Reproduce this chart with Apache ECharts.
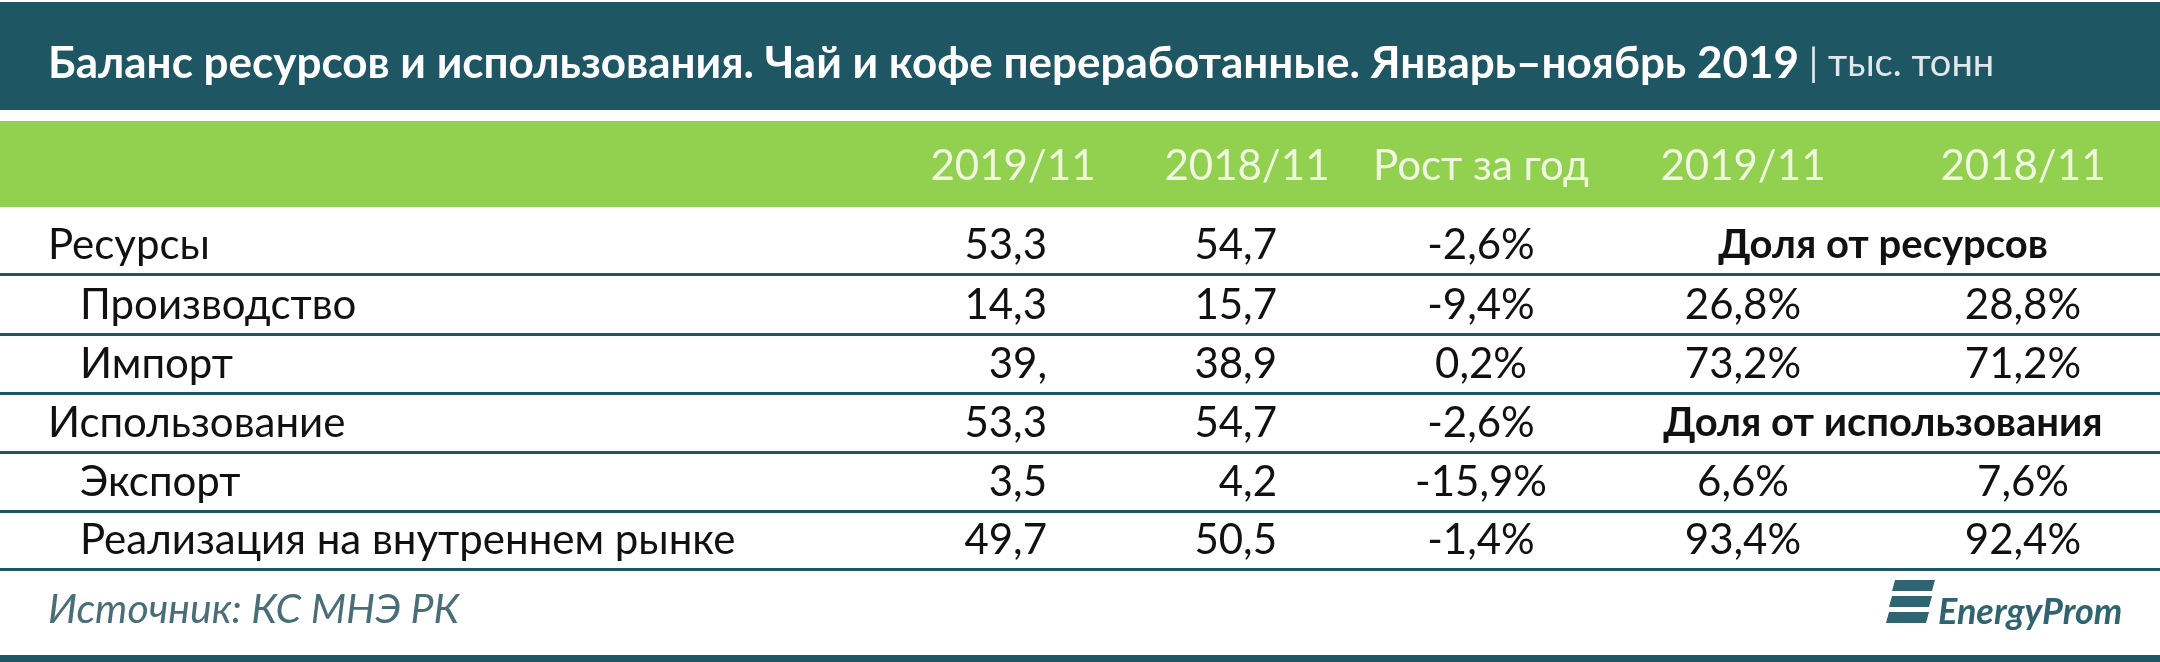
<!DOCTYPE html>
<html><head><meta charset="utf-8">
<script src="https://cdn.jsdelivr.net/npm/echarts@6/dist/echarts.min.js"></script>
<style>html,body{margin:0;padding:0;background:#fff}#c{width:2160px;height:662px}</style>
</head><body><div id="c"></div>
<script>
const title = 'Баланс ресурсов и использования. Чай и кофе переработанные. Январь–ноябрь 2019';
const unit = '| тыс. тонн';
const headers = ['2019/11', '2018/11', 'Рост за год', '2019/11', '2018/11'];
const rowLabels = ['Ресурсы', 'Производство', 'Импорт', 'Использование', 'Экспорт', 'Реализация на внутреннем рынке'];
const rowIndent = [0, 1, 1, 0, 1, 1];
const col2019 = ['53,3', '14,3', '39,', '53,3', '3,5', '49,7'];
const col2018 = ['54,7', '15,7', '38,9', '54,7', '4,2', '50,5'];
const colGrowth = ['-2,6%', '-9,4%', '0,2%', '-2,6%', '-15,9%', '-1,4%'];
const share2019 = ['', '26,8%', '73,2%', '', '6,6%', '93,4%'];
const share2018 = ['', '28,8%', '71,2%', '', '7,6%', '92,4%'];
const shareHeads = ['Доля от ресурсов', '', '', 'Доля от использования', '', ''];
const source = 'Источник: КС МНЭ РК';

const F = 'Lato, "Open Sans", sans-serif';
const FS = 42;
const dark = '#1f5663', green = '#92d050';
const els = [];
els.push({type:'rect', shape:{x:0,y:2,width:2160,height:108}, style:{fill:dark}});
els.push({type:'text', x:48, y:64, style:{text:'{t|'+title+'}{u| '+unit+'}', rich:{t:{font:'bold 44px '+F, fill:'#fff'}, u:{font:'38px '+F, fill:'#dfe9ec'}}, textVerticalAlign:'middle'}});
els.push({type:'rect', shape:{x:0,y:121,width:2160,height:86}, style:{fill:green}});
const hx = [1013, 1247, 1481, 1743, 2023];
headers.forEach((h,i)=>els.push({type:'text', x:hx[i], y:166, style:{text:h, font:FS+'px '+F, fill:'#f0f8e0', textAlign:'center', textVerticalAlign:'middle'}}));
const rowY = [245, 305, 364, 423, 482, 540];
rowLabels.forEach((l,i)=>{
  const y = rowY[i];
  els.push({type:'text', x:rowIndent[i]?80:48, y, style:{text:l, font:FS+'px '+F, fill:'#111', textVerticalAlign:'middle'}});
  els.push({type:'text', x:1047, y, style:{text:col2019[i], font:FS+'px '+F, fill:'#111', textAlign:'right', textVerticalAlign:'middle'}});
  els.push({type:'text', x:1277, y, style:{text:col2018[i], font:FS+'px '+F, fill:'#111', textAlign:'right', textVerticalAlign:'middle'}});
  els.push({type:'text', x:1481, y, style:{text:colGrowth[i], font:FS+'px '+F, fill:'#111', textAlign:'center', textVerticalAlign:'middle'}});
  if (shareHeads[i]) {
    els.push({type:'text', x:1883, y, style:{text:shareHeads[i], font:'bold 40px '+F, fill:'#111', textAlign:'center', textVerticalAlign:'middle'}});
  } else {
    els.push({type:'text', x:1743, y, style:{text:share2019[i], font:FS+'px '+F, fill:'#111', textAlign:'center', textVerticalAlign:'middle'}});
    els.push({type:'text', x:2023, y, style:{text:share2018[i], font:FS+'px '+F, fill:'#111', textAlign:'center', textVerticalAlign:'middle'}});
  }
  els.push({type:'rect', shape:{x:0,y:y+28,width:2160,height:3}, style:{fill:dark}});
});
els.push({type:'text', x:48, y:610, style:{text:source, font:'italic 41px '+F, fill:'#4a6e78', textVerticalAlign:'middle'}});
// logo
[0,1,2].forEach(k=>els.push({type:'polygon', shape:{points:[[1895-k*3,580+k*16],[1935-k*3,580+k*16],[1932-k*3,591+k*16],[1892-k*3,591+k*16]]}, style:{fill:'#2f6470'}}));
els.push({type:'text', x:1938, y:612, style:{text:'EnergyProm', font:'italic bold 36px '+F, fill:'#2f6470', textVerticalAlign:'middle'}});
els.push({type:'rect', shape:{x:0,y:655,width:2160,height:7}, style:{fill:dark}});

const chart = echarts.init(document.getElementById('c'));
chart.setOption({animation:false, graphic:{elements:els}});
</script></body></html>
